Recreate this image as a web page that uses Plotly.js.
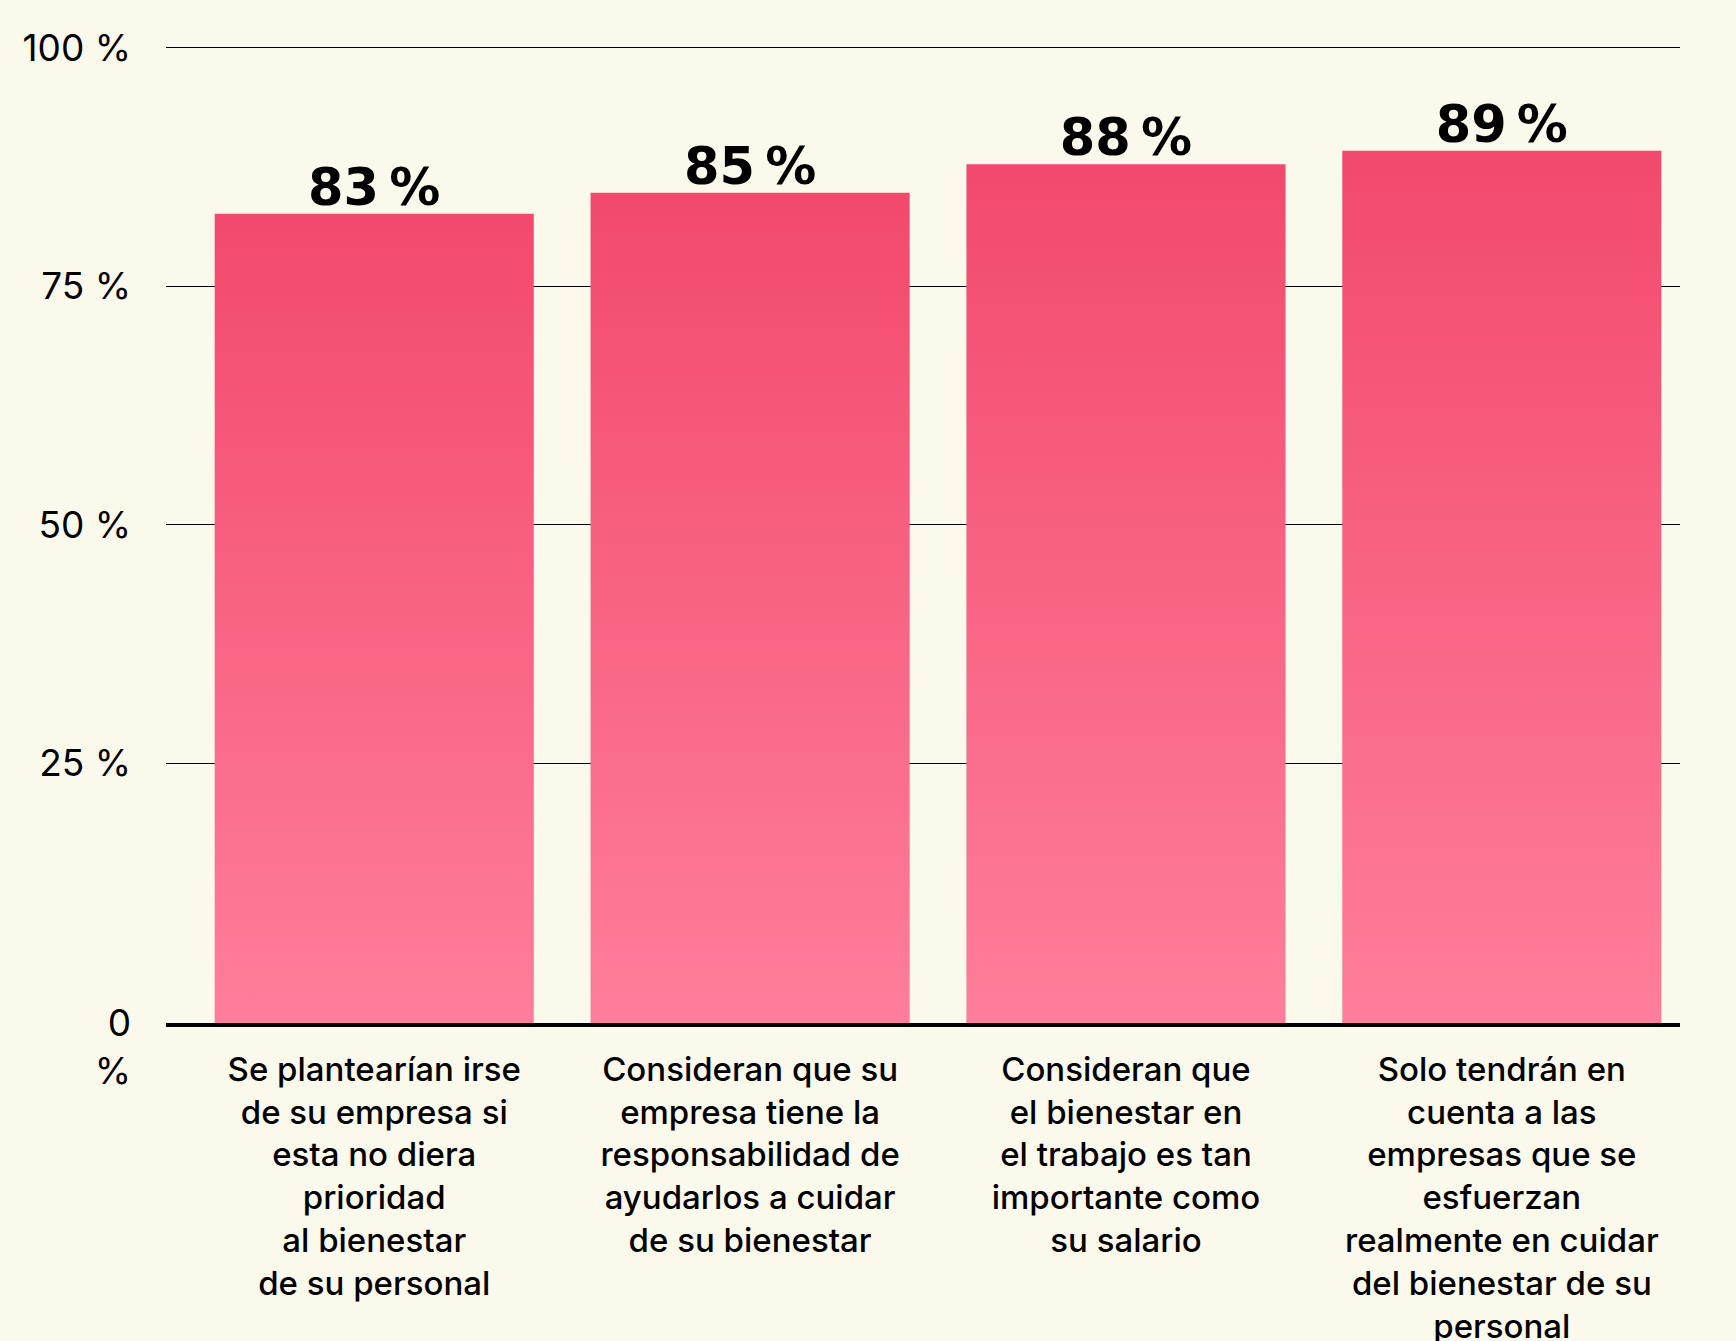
<!DOCTYPE html>
<html>
<head>
<meta charset="utf-8">
<script src="https://cdn.plot.ly/plotly-3.0.1.min.js"></script>
<style>
  html, body { margin: 0; padding: 0; background: #FBF9EC; }
  #chart { width: 1736px; height: 1341px; }
</style>
</head>
<body>
<div id="chart"></div>
<script>
// ---- Data ----
const categories = [
  "Se plantearían irse<br>de su empresa si<br>esta no diera<br>prioridad<br>al bienestar<br>de su personal",
  "Consideran que su<br>empresa tiene la<br>responsabilidad de<br>ayudarlos a cuidar<br>de su bienestar",
  "Consideran que<br>el bienestar en<br>el trabajo es tan<br>importante como<br>su salario",
  "Solo tendrán en<br>cuenta a las<br>empresas que se<br>esfuerzan<br>realmente en cuidar<br>del bienestar de su<br>personal"
];
const values = [82.6, 84.8, 87.8, 89.2];
const yTickValues = [-2.2, 25, 50, 75, 100];
const yTickLabels = ["\u00a0<br>0<br>%", "25 %", "50 %", "75 %", "100 %"];

// the baseline line sits slightly below the 0 of the gridline scale
const axisFloor = -2.23;

const trace = {
  type: "bar",
  x: [0, 1, 2, 3],
  base: axisFloor,
  y: values.map(v => v - axisFloor),
  customdata: values,
  marker: { color: "#F5587C", line: { width: 0 } },
  texttemplate: "%{customdata:.0f}\u202f%",
  textposition: "outside",
  cliponaxis: false,
  textfont: { family: "DejaVu Sans", size: 51, color: "#000000", weight: 700 },
  hoverinfo: "skip"
};

const layout = {
  width: 1736,
  height: 1341,
  paper_bgcolor: "#FBF9EC",
  plot_bgcolor: "#FBF9EC",
  margin: { l: 166, r: 56, t: 43, b: 318 },
  showlegend: false,
  bargap: 0.151,
  font: { family: "Inter, 'Open Sans', sans-serif", color: "#000000" },
  xaxis: {
    range: [-0.554, 3.474],
    tickmode: "array",
    tickvals: [0, 1, 2, 3],
    ticktext: categories,
    showgrid: false,
    zeroline: false,
    showline: true,
    linecolor: "#000000",
    linewidth: 4,
    ticks: "",
    ticklabelstandoff: 14,
    tickfont: { family: "Inter", size: 33, color: "#000000", weight: 500 },
    fixedrange: true
  },
  yaxis: {
    range: [axisFloor, 100.5],
    tickmode: "array",
    tickvals: yTickValues,
    ticktext: yTickLabels,
    showgrid: true,
    gridcolor: "#000000",
    gridwidth: 1.3,
    zeroline: false,
    showline: false,
    ticks: "",
    ticklabelstandoff: 34,
    ticklabelshift: -3.5,
    tickfont: { family: "Inter", size: 37, color: "#000000" },
    fixedrange: true
  }
};

function applyStyling(gd) {
  const svg = gd.querySelector(".main-svg");
  if (!svg) return;
  const ns = "http://www.w3.org/2000/svg";
  if (!svg.querySelector("#barGrad")) {
    let defs = svg.querySelector("defs");
    if (!defs) { defs = document.createElementNS(ns, "defs"); svg.insertBefore(defs, svg.firstChild); }
    const lg = document.createElementNS(ns, "linearGradient");
    lg.setAttribute("id", "barGrad");
    lg.setAttribute("x1", "0"); lg.setAttribute("y1", "0");
    lg.setAttribute("x2", "0"); lg.setAttribute("y2", "1");
    const s1 = document.createElementNS(ns, "stop");
    s1.setAttribute("offset", "0"); s1.setAttribute("stop-color", "#F2496E");
    const s2 = document.createElementNS(ns, "stop");
    s2.setAttribute("offset", "1"); s2.setAttribute("stop-color", "#FF7E9B");
    lg.appendChild(s1); lg.appendChild(s2);
    defs.appendChild(lg);
  }
  gd.querySelectorAll(".bars .point path").forEach(p => {
    p.style.fill = "url(#barGrad)";
  });
  gd.querySelectorAll(".bars .point text").forEach(t => {
    if (!t.dataset.shifted) {
      const tr = t.getAttribute("transform") || "";
      t.setAttribute("transform", "translate(0,6) " + tr);
      t.dataset.shifted = "1";
    }
  });
}

const gd = document.getElementById("chart");
Plotly.newPlot(gd, [trace], layout, { displayModeBar: false, staticPlot: true }).then(() => {
  applyStyling(gd);
  gd.on("plotly_afterplot", () => applyStyling(gd));
});
</script>
</body>
</html>
